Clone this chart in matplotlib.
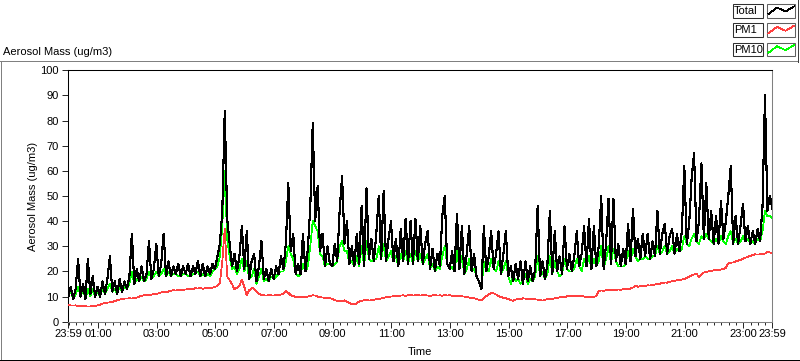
import matplotlib.pyplot as plt
import matplotlib.lines as mlines
import matplotlib.patches as mpatches
import numpy as np

plt.rcParams['font.family'] = ['Liberation Sans', 'DejaVu Sans']

# minutes since 23:59 of the previous day, one sample every 5 minutes
minutes = np.arange(0, 1441, 5)

total = [
    10, 14, 9, 13, 25, 10, 15, 9, 25, 11, 18, 10,
    14, 10, 16, 11, 17, 26, 12, 16, 11, 17, 12, 16,
    13, 18, 35, 15, 21, 16, 22, 16, 19, 32, 17, 21,
    31, 18, 23, 35, 18, 24, 18, 22, 19, 23, 18, 22,
    19, 23, 18, 22, 19, 24, 18, 23, 18, 22, 19, 23,
    21, 26, 31, 44, 84, 41, 31, 22, 27, 20, 26, 38,
    21, 36, 17, 24, 27, 16, 22, 32, 17, 21, 16, 21,
    17, 22, 19, 26, 21, 31, 55, 28, 35, 19, 23, 19,
    35, 20, 29, 46, 79, 40, 54, 28, 35, 22, 30, 23,
    22, 31, 24, 44, 58, 31, 40, 23, 30, 22, 35, 23,
    46, 22, 53, 25, 33, 24, 35, 50, 25, 52, 24, 33,
    40, 24, 33, 22, 37, 24, 41, 23, 40, 23, 41, 24,
    38, 23, 31, 36, 21, 29, 20, 27, 22, 42, 50, 23,
    21, 28, 20, 43, 21, 38, 19, 27, 38, 20, 27, 18,
    16, 13, 38, 20, 26, 36, 21, 27, 36, 19, 27, 36,
    18, 22, 16, 23, 17, 24, 15, 24, 16, 22, 16, 21,
    46, 18, 24, 17, 23, 44, 19, 36, 20, 26, 19, 38,
    21, 27, 20, 26, 36, 22, 27, 38, 22, 41, 21, 38,
    22, 30, 50, 21, 31, 49, 23, 49, 24, 31, 22, 29,
    23, 39, 24, 45, 26, 33, 25, 35, 26, 35, 25, 32,
    26, 44, 27, 35, 39, 27, 34, 37, 27, 35, 28, 36,
    62, 31, 39, 57, 67, 32, 40, 63, 33, 55, 33, 44,
    31, 42, 31, 48, 33, 40, 50, 62, 31, 42, 31, 38,
    47, 32, 38, 31, 36, 31, 37, 32, 46, 90, 44, 50,
    45,
]

pm1 = [
    6.5, 6.5, 6.4, 6.5, 6.3, 6.2, 6.1, 6.2, 6.0, 6.1, 6.2, 6.3,
    6.5, 6.8, 7.2, 7.4, 7.6, 7.7, 7.8, 8.2, 8.5, 8.8, 9.0, 9.2,
    9.2, 9.3, 9.2, 9.4, 9.6, 10.0, 10.3, 10.5, 10.6, 10.5, 10.8, 11.0,
    11.0, 11.3, 11.6, 11.9, 11.8, 12.0, 12.3, 12.5, 12.4, 12.6, 12.5, 12.7,
    12.8, 13.0, 13.1, 13.0, 13.3, 13.2, 13.4, 13.1, 13.3, 13.5, 13.4, 13.6,
    13.8, 14.2, 15.5, 24.0, 37.0, 18.0, 16.5, 15.0, 12.8, 13.5, 14.2, 16.8,
    13.9, 10.5, 12.5, 13.4, 13.2, 12.0, 11.2, 10.6, 10.5, 10.4, 10.6, 10.5,
    10.4, 10.6, 10.5, 10.8, 11.2, 12.3, 11.5, 10.5, 10.2, 9.9, 10.0, 9.9,
    9.8, 9.9, 10.0, 10.2, 10.5, 10.4, 10.0, 9.8, 9.6, 9.5, 9.6, 9.4,
    9.0, 8.6, 8.3, 8.0, 8.2, 8.5, 8.0, 7.5, 7.0, 6.8, 7.3, 8.0,
    8.3, 8.5, 8.6, 8.4, 8.5, 8.7, 8.9, 9.0, 9.2, 9.5, 9.7, 9.8,
    10.0, 10.1, 10.3, 10.2, 10.4, 10.5, 10.3, 10.5, 10.6, 10.4, 10.5, 10.6,
    10.4, 10.5, 10.6, 10.4, 10.3, 10.5, 10.6, 10.4, 10.5, 10.3, 10.6, 10.4,
    10.5, 10.3, 10.4, 10.2, 10.3, 10.1, 10.0, 9.8, 9.6, 9.5, 9.3, 9.1,
    8.7, 8.5, 9.2, 10.2, 10.8, 11.5, 11.3, 10.8, 10.2, 9.8, 9.5, 9.3,
    9.0, 8.6, 8.3, 8.8, 9.1, 9.0, 9.3, 9.2, 9.0, 9.2, 9.1, 8.9,
    8.8, 8.6, 8.4, 8.7, 9.0, 9.2, 9.0, 9.3, 9.5, 9.7, 10.0, 9.8,
    10.1, 10.3, 10.0, 10.2, 10.1, 10.3, 10.2, 10.0, 9.8, 9.9, 9.7, 9.9,
    10.2, 12.2, 12.4, 12.3, 12.5, 12.6, 12.5, 12.7, 12.6, 12.8, 12.7, 12.9,
    13.0, 12.8, 13.2, 13.6, 14.3, 13.9, 14.2, 14.4, 14.2, 14.5, 14.4, 14.6,
    14.8, 15.0, 15.1, 15.4, 15.6, 15.5, 15.9, 16.1, 16.3, 16.5, 16.6, 16.8,
    17.0, 17.4, 17.9, 18.4, 18.8, 19.2, 17.6, 18.6, 19.6, 19.8, 20.0, 20.2,
    20.4, 20.6, 20.5, 20.8, 21.0, 21.5, 23.2, 23.4, 23.6, 24.0, 24.3, 24.6,
    25.0, 25.5, 25.8, 26.2, 26.5, 26.8, 26.7, 26.8, 27.0, 27.1, 27.8, 27.5,
    27.3,
]

pm10 = [
    10, 12, 9, 11, 14, 10, 13, 9, 13, 10, 13, 10,
    12, 10, 13, 11, 13, 15, 12, 13, 11, 14, 12, 14,
    13, 15, 20, 15, 17, 16, 18, 16, 17, 20, 17, 18,
    20, 18, 19, 21, 18, 20, 18, 19, 19, 18, 18, 19,
    19, 18, 18, 19, 19, 20, 18, 19, 18, 19, 18, 20,
    21, 22, 26, 38, 60, 33, 26, 21, 22, 19, 21, 25,
    20, 24, 17, 18, 21, 15, 18, 21, 16, 17, 16, 18,
    17, 18, 19, 20, 20, 24, 30, 27, 25, 19, 18, 19,
    23, 20, 22, 30, 40, 38, 36, 27, 26, 22, 23, 23,
    22, 23, 24, 30, 32, 28, 28, 23, 24, 22, 26, 22,
    30, 22, 32, 25, 24, 25, 25, 30, 25, 31, 24, 26,
    28, 24, 26, 22, 27, 24, 28, 23, 27, 23, 28, 24,
    27, 23, 25, 27, 21, 23, 20, 22, 21, 26, 30, 23,
    21, 22, 20, 28, 21, 26, 19, 21, 25, 20, 21, 18,
    16, 13, 24, 20, 20, 25, 21, 20, 24, 19, 21, 24,
    18, 15, 19, 16, 17, 15, 17, 19, 15, 17, 16, 18,
    26, 18, 20, 17, 19, 26, 19, 24, 20, 18, 19, 25,
    21, 20, 20, 21, 25, 22, 20, 25, 22, 26, 21, 25,
    22, 24, 30, 21, 25, 30, 23, 29, 24, 22, 22, 22,
    23, 28, 24, 29, 26, 24, 25, 25, 26, 25, 25, 26,
    26, 30, 27, 28, 30, 27, 28, 30, 27, 29, 28, 29,
    34, 31, 30, 33, 35, 32, 31, 34, 33, 35, 33, 32,
    31, 33, 31, 34, 32, 31, 34, 36, 31, 33, 31, 32,
    34, 32, 33, 31, 32, 31, 33, 32, 36, 44, 42, 42,
    41,
]

series_names = ['Total', 'PM1', 'PM10']
series_colors = ['black', '#ff4040', '#00ff00']
series_widths = [0.8, 0.55, 0.55]

tick_minutes = [0] + list(range(61, 1440, 120)) + [1440]
tick_labels = ['23:59'] + ['%02d:00' % h for h in range(1, 24, 2)] + ['23:59']
minor_minutes = np.arange(1, 1440, 15)

W, H = 800, 361


def fx(px):
    return px / W


def fy(py):
    return 1 - py / H


fig = plt.figure(figsize=(W / 100, H / 100), dpi=100)
ax = fig.add_axes([fx(68.3), fy(321.7), 704 / W, 251.4 / H])

# PM10 sits under the total trace, PM1 is drawn last
for vals, c, lw, z in zip([total, pm1, pm10], series_colors, series_widths, [3, 4, 2]):
    ax.plot(minutes, vals, color=c, lw=lw, antialiased=False, zorder=z)

ax.set_xlim(0, 1440)
ax.set_ylim(0, 100)
ax.set_yticks(range(0, 101, 10))
ax.set_xticks(tick_minutes)
ax.set_xticklabels(tick_labels)
ax.set_xticks(minor_minutes, minor=True)
ax.tick_params(axis='x', which='major', length=4, width=0.6, labelsize=8, pad=1.5)
ax.tick_params(axis='x', which='minor', length=2.2, width=0.6)
ax.tick_params(axis='y', length=4, width=0.6, labelsize=8, pad=3)

for side in ['top', 'left']:
    ax.spines[side].set_color('black')
    ax.spines[side].set_linewidth(0.75)
for side in ['right', 'bottom']:
    ax.spines[side].set_color('#808080')
    ax.spines[side].set_linewidth(0.75)

fig.text(fx(3), fy(52), 'Aerosol Mass (ug/m3)', fontsize=8, ha='left', va='center')
fig.text(fx(33), fy(196), 'Aerosol Mass (ug/m3)', fontsize=8, rotation=90,
         ha='center', va='center')
fig.text(fx(420), fy(352), 'Time', fontsize=8, ha='center', va='center')

# panel frame
frame = [
    ([0, 797.5], [61, 61], '#808080'),
    ([0.5, 0.5], [61, 359], '#808080'),
    ([0, 800], [359.5, 359.5], 'black'),
    ([797.5, 797.5], [0, 62], '#404040'),
]
for xs, ys, c in frame:
    fig.add_artist(mlines.Line2D([fx(v) for v in xs], [fy(v) for v in ys],
                                 color=c, lw=0.55, antialiased=False))

# legend boxes
row_tops = [4, 23.3, 42.7]
glyph_x = [768.5, 777, 785.5, 794]
glyph_dy = [10, 3.5, 7.5, 2.5]
for name, c, top in zip(series_names, series_colors, row_tops):
    fig.add_artist(mpatches.Rectangle((fx(732.5), fy(top + 13.5)), 30 / W, 13.5 / H,
                                      facecolor='white', edgecolor='#303030', lw=0.75))
    fig.add_artist(mpatches.Rectangle((fx(766.5), fy(top + 13.5)), 28.5 / W, 13.5 / H,
                                      facecolor='white', edgecolor='#606060', lw=0.75))
    fig.text(fx(734), fy(top + 7), name, fontsize=8, ha='left', va='center')
    fig.add_artist(mlines.Line2D([fx(v) for v in glyph_x],
                                 [fy(top + d) for d in glyph_dy],
                                 color=c, lw=0.55, antialiased=False))

fig.savefig('out.png', dpi=100)
